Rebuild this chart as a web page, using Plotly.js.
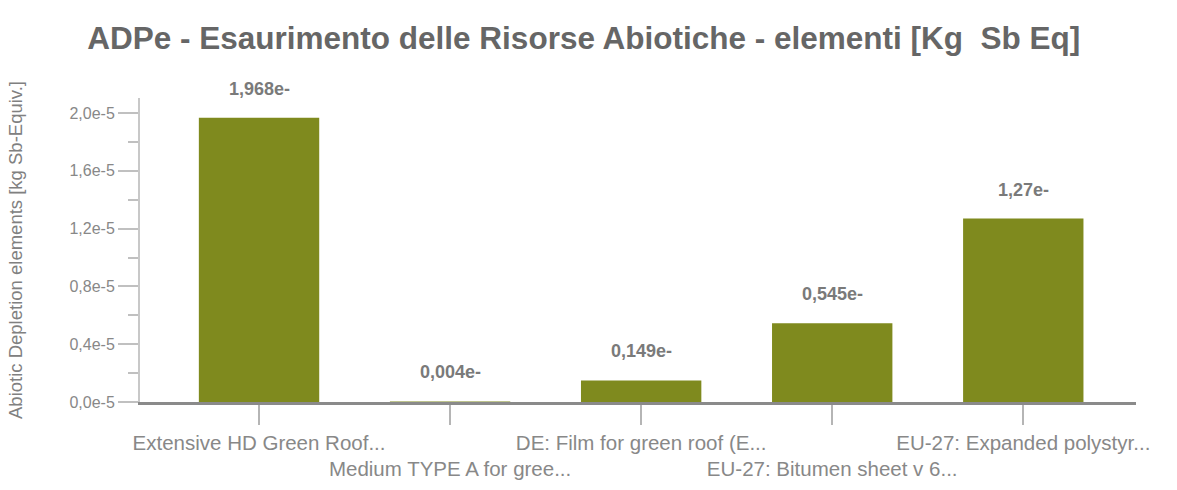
<!DOCTYPE html>
<html>
<head>
<meta charset="utf-8">
<script src="https://cdn.plot.ly/plotly-3.0.1.min.js"></script>
<style>html,body{margin:0;padding:0;background:#fff;}#chart{width:1177px;height:490px;}</style>
</head>
<body>
<div id="chart"></div>
<script>
var categories = [
  "Extensive HD Green Roof...",
  "Medium TYPE A for gree...",
  "DE: Film for green roof (E...",
  "EU-27: Bitumen sheet v 6...",
  "EU-27: Expanded polystyr..."
];
var values = [1.968e-5, 0.004e-5, 0.149e-5, 0.545e-5, 1.27e-5];
var valueLabels = ["1,968e-", "0,004e-", "0,149e-", "0,545e-", "1,27e-"];
var yTickVals = [0, 0.4e-5, 0.8e-5, 1.2e-5, 1.6e-5, 2.0e-5];
var yTickText = ["0,0e-5", "0,4e-5", "0,8e-5", "1,2e-5", "1,6e-5", "2,0e-5"];

var tickText = categories.map(function(c, i){ return i % 2 === 1 ? "<br>" + c : c; });

var trace = {
  type: "bar",
  x: categories,
  y: values,
  marker: {color: "#7f8a1e"},
  hoverinfo: "none"
};

var annotations = categories.map(function(c, i){
  return {
    x: c, y: values[i], xref: "x", yref: "y",
    text: valueLabels[i], showarrow: false,
    yanchor: "bottom", yshift: 17,
    font: {family: "Liberation Sans, Arial, sans-serif", size: 18, color: "#7a7a7a", weight: "bold"}
  };
});

var layout = {
  width: 1177, height: 490,
  margin: {l: 140, r: 41, t: 98, b: 88},
  paper_bgcolor: "#ffffff", plot_bgcolor: "#ffffff",
  showlegend: false,
  bargap: 0.37,
  title: {
    text: "<b>ADPe - Esaurimento delle Risorse Abiotiche - elementi [Kg  Sb Eq]</b>",
    x: 0.496, xanchor: "center", y: 1 - 38/490, yanchor: "middle",
    font: {family: "Liberation Sans, Arial, sans-serif", size: 31.5, color: "#666666"}
  },
  xaxis: {
    type: "category",
    range: [-0.623, 4.59],
    tickmode: "array", tickvals: categories, ticktext: tickText,
    tickangle: 0,
    ticks: "outside", ticklen: 20, tickwidth: 2, tickcolor: "#b5b5b5",
    showline: true, linecolor: "#8a8a8a", linewidth: 3,
    showgrid: false, zeroline: false,
    tickfont: {family: "Liberation Sans, Arial, sans-serif", size: 20.5, color: "#888888"},
    automargin: false
  },
  yaxis: {
    range: [0, 2.104e-5],
    tickmode: "array", tickvals: yTickVals, ticktext: yTickText,
    ticks: "outside", ticklen: 20, tickwidth: 2, tickcolor: "#c0c0c0",
    minor: {tickvals: [0.2e-5, 0.6e-5, 1.0e-5, 1.4e-5, 1.8e-5], ticks: "outside", ticklen: 10, tickwidth: 2, tickcolor: "#c0c0c0"},
    showline: true, linecolor: "#c8c8c8", linewidth: 2,
    showgrid: false, zeroline: false,
    tickfont: {family: "Liberation Sans, Arial, sans-serif", size: 16, color: "#888888"},
    title: {
      text: "Abiotic Depletion elements [kg Sb-Equiv.]",
      standoff: 42,
      font: {family: "Liberation Sans, Arial, sans-serif", size: 18.5, color: "#808080"}
    },
    automargin: false
  },
  annotations: annotations
};

Plotly.newPlot("chart", [trace], layout, {displayModeBar: false, staticPlot: true});
</script>
</body>
</html>
